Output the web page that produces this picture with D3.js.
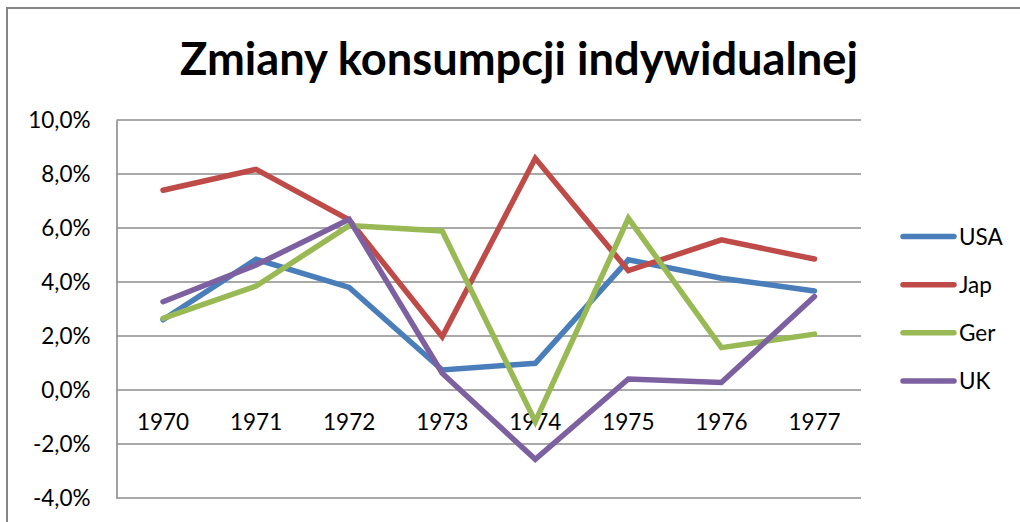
<!DOCTYPE html>
<html>
<head>
<meta charset="utf-8">
<script src="https://cdn.jsdelivr.net/npm/d3@7"></script>
<style>
  html, body { margin: 0; padding: 0; background: #fff; }
  svg { display: block; font-family: Lato, "Open Sans", sans-serif; }
</style>
</head>
<body>
<svg id="chart" width="1020" height="522"></svg>
<script>
const title = "Zmiany konsumpcji indywidualnej";
const categories = ["1970", "1971", "1972", "1973", "1974", "1975", "1976", "1977"];
const seriesNames = ["USA", "Jap", "Ger", "UK"];
const seriesColors = ["#4A7EBB", "#BE4B48", "#98B954", "#7D60A0"];
const usa = [2.6, 4.84, 3.8, 0.74, 0.99, 4.82, 4.14, 3.67];
const jap = [7.4, 8.17, 6.3, 1.97, 8.58, 4.42, 5.56, 4.85];
const ger = [2.65, 3.85, 6.09, 5.89, -1.17, 6.36, 1.57, 2.07];
const uk  = [3.27, 4.63, 6.32, 0.62, -2.57, 0.41, 0.28, 3.46];
const yTicks = [-4, -2, 0, 2, 4, 6, 8, 10];

const seriesValues = [usa, jap, ger, uk];
const svg = d3.select("#chart");

// chart frame (top and left edges visible)
svg.append("path")
  .attr("d", "M7,522 L7,8 L1020,8")
  .attr("fill", "none").attr("stroke", "#868686").attr("stroke-width", 2);

const plot = { left: 116.5, right: 861, top: 120, bottom: 498 };
const x = d3.scaleBand().domain(categories).range([plot.left, plot.right]);
const y = d3.scaleLinear().domain([-4, 10]).range([plot.bottom, plot.top]);
const fmt = v => d3.format(".1f")(v).replace("\u2212", "-").replace(".", ",") + "%";

// gridlines
svg.append("g").selectAll("line").data(yTicks).join("line")
  .attr("x1", plot.left).attr("x2", plot.right)
  .attr("y1", d => y(d)).attr("y2", d => y(d))
  .attr("stroke", "#8C8C8C").attr("stroke-width", 1.6);

// vertical axis
const yAxis = d3.axisLeft(y).tickValues(yTicks).tickFormat(fmt).tickSize(0).tickPadding(26);
const gy = svg.append("g").attr("transform", `translate(${plot.left},0)`).call(yAxis);
gy.select(".domain").attr("stroke", "#8C8C8C").attr("stroke-width", 1.6);
gy.selectAll("text").attr("font-size", 22.5).attr("fill", "#000")
  .attr("font-family", "Lato, 'Open Sans', sans-serif");

// category axis labels placed below the zero line
const xAxis = d3.axisBottom(x).tickSize(0).tickPadding(24);
const gx = svg.append("g").attr("transform", `translate(0,${y(0)})`).call(xAxis);
gx.select(".domain").remove();
gx.selectAll("text").attr("font-size", 22.5).attr("fill", "#000")
  .attr("font-family", "Lato, 'Open Sans', sans-serif");

// lines
const line = d3.line()
  .x((d, i) => x(categories[i]) + x.bandwidth() / 2)
  .y(d => y(d));
svg.append("g").selectAll("path").data(seriesValues).join("path")
  .attr("d", d => line(d))
  .attr("fill", "none")
  .attr("stroke", (d, i) => seriesColors[i])
  .attr("stroke-width", 5.5)
  .attr("stroke-linecap", "round")
  .attr("stroke-linejoin", "miter");

// legend
const legendY = d3.scalePoint().domain(seriesNames).range([236.5, 381]);
const lg = svg.append("g").selectAll("g").data(seriesNames).join("g")
  .attr("transform", d => `translate(0,${legendY(d)})`);
lg.append("line").attr("x1", 903).attr("x2", 954).attr("y1", 0).attr("y2", 0)
  .attr("stroke", (d, i) => seriesColors[i]).attr("stroke-width", 5.5)
  .attr("stroke-linecap", "round");
lg.append("text").attr("x", 959).attr("y", 0).attr("dy", "0.36em")
  .attr("font-size", 22.5).attr("fill", "#000").text(d => d);

// title
const t = svg.append("text").attr("x", 519).attr("y", 75)
  .attr("text-anchor", "middle").attr("font-weight", "bold")
  .attr("font-size", 44).attr("fill", "#000").text(title);
const w = t.node().getComputedTextLength();
t.attr("font-size", 44 * 678 / w);
</script>
</body>
</html>
